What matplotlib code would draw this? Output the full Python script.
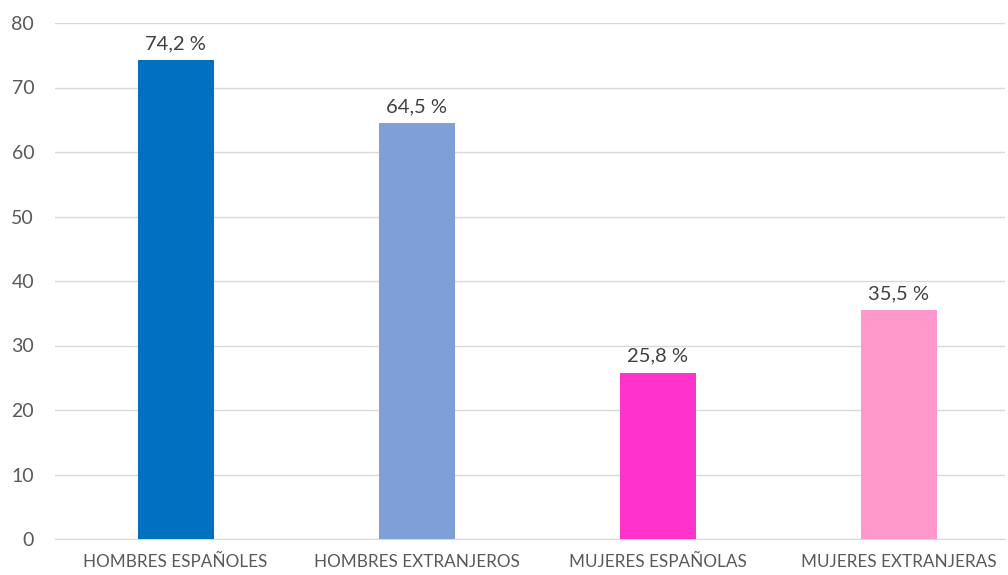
import matplotlib
matplotlib.use("Agg")
import matplotlib.pyplot as plt

plt.rcParams['font.family'] = ['Lato', 'DejaVu Sans']

categorias = ["HOMBRES ESPAÑOLES", "HOMBRES EXTRANJEROS", "MUJERES ESPAÑOLAS", "MUJERES EXTRANJERAS"]
valores = [74.2, 64.5, 25.8, 35.5]
colores = ["#0070C0", "#7F9FD8", "#FF33CC", "#FF99CC"]
yticks = [0, 10, 20, 30, 40, 50, 60, 70, 80]

fig = plt.figure(figsize=(10.08, 5.75), dpi=100)
ax = fig.add_axes([55 / 1008, 36 / 575, 950 / 1008, 516 / 575])

x = range(len(categorias))
bars = ax.bar(x, valores, width=0.315, color=colores, zorder=3)

# etiquetas encima de las barras
for rect, v in zip(bars, valores):
    ax.text(rect.get_x() + rect.get_width() / 2, v + 1.2,
            ('%.1f %%' % v).replace('.', ','),
            ha='center', va='bottom', fontsize=14.5, color='#404040')

ax.set_xlim(-0.5, 3.44)
ax.set_ylim(0, 80)
ax.set_yticks(yticks)
ax.set_xticks(list(x))
ax.set_xticklabels(categorias, fontsize=12.3, color='#595959')
ax.tick_params(axis='y', labelsize=14, labelcolor='#595959', length=0, pad=15)
ax.tick_params(axis='x', length=0, pad=11)
ax.grid(axis='y', color='#D9D9D9', linewidth=1, zorder=0)
for s in ['top', 'right', 'left']:
    ax.spines[s].set_visible(False)
ax.spines['bottom'].set_color('#D9D9D9')

plt.savefig("out.png", dpi=100)
